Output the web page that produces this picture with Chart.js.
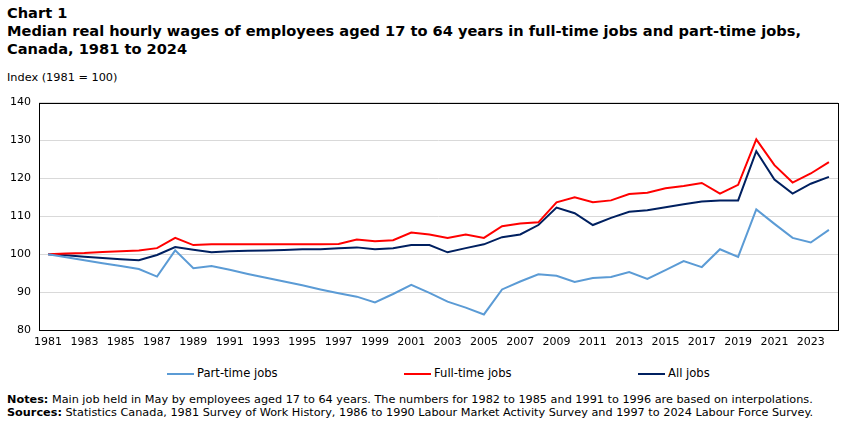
<!DOCTYPE html>
<html>
<head>
<meta charset="utf-8">
<script src="https://cdn.jsdelivr.net/npm/chart.js@4/dist/chart.umd.min.js"></script>
<style>
  body { margin: 0; background: #fff; font-family: Verdana, "DejaVu Sans", sans-serif; color: #000; }
  #wrap { position: relative; width: 851px; height: 426px; overflow: hidden; }
  #titulo { position: absolute; left: 7px; top: 4px; font-weight: bold; font-size: 14.6px; line-height: 18px; }
  #unidad { position: absolute; left: 7px; top: 71px; font-size: 11.3px; }
  #caja { position: absolute; left: 0; top: 88px; width: 851px; height: 268px; }
  #leyenda { position: absolute; left: 0; top: 366px; width: 851px; font-size: 11.6px; }
  .item { position: absolute; top: 0; white-space: nowrap; }
  .item span.linea { display: inline-block; width: 27px; height: 2px; vertical-align: middle; margin-right: 3px; }
  #notas { position: absolute; left: 7px; top: 393px; font-size: 11.25px; line-height: 13px; white-space: nowrap; }
</style>
</head>
<body>
<div id="wrap">
  <div id="titulo">Chart 1<br>Median real hourly wages of employees aged 17 to 64 years in full-time jobs and part-time jobs,<br>Canada, 1981 to 2024</div>
  <div id="unidad">Index (1981 = 100)</div>
  <div id="caja"><canvas id="grafico"></canvas></div>
  <div id="leyenda"></div>
  <div id="notas"><b>Notes:</b> Main job held in May by employees aged 17 to 64 years. The numbers for 1982 to 1985 and 1991 to 1996 are based on interpolations.<br><b>Sources:</b> Statistics Canada, 1981 Survey of Work History, 1986 to 1990 Labour Market Activity Survey and 1997 to 2024 Labour Force Survey.</div>
</div>
<script>
const anios = ['1981','1982','1983','1984','1985','1986','1987','1988','1989','1990',
  '1991','1992','1993','1994','1995','1996','1997','1998','1999','2000',
  '2001','2002','2003','2004','2005','2006','2007','2008','2009','2010',
  '2011','2012','2013','2014','2015','2016','2017','2018','2019','2020',
  '2021','2022','2023','2024'];

const tiempoParcial = [100.0, 99.2, 98.4, 97.6, 96.9, 96.1, 94.1, 101.0, 96.3, 96.9,
  95.9, 94.8, 93.8, 92.8, 91.8, 90.7, 89.7, 88.8, 87.3, 89.5,
  91.9, 89.8, 87.5, 85.9, 84.1, 90.7, 92.8, 94.7, 94.3, 92.7,
  93.7, 94.0, 95.3, 93.5, 95.8, 98.2, 96.6, 101.3, 99.3, 111.8,
  108.0, 104.3, 103.1, 106.4];

const tiempoCompleto = [100.0, 100.2, 100.3, 100.6, 100.8, 101.0, 101.6, 104.3, 102.4, 102.6,
  102.6, 102.6, 102.6, 102.6, 102.6, 102.6, 102.7, 103.9, 103.4, 103.7,
  105.7, 105.2, 104.3, 105.2, 104.3, 107.4, 108.1, 108.4, 113.7, 115.0,
  113.7, 114.2, 115.9, 116.2, 117.4, 118.0, 118.8, 116.0, 118.3, 130.3,
  123.5, 118.9, 121.3, 124.3];

const todos = [100.0, 99.7, 99.3, 99.0, 98.7, 98.4, 99.8, 101.9, 101.2, 100.5,
  100.8, 100.9, 101.0, 101.1, 101.3, 101.3, 101.6, 101.8, 101.3, 101.6,
  102.4, 102.4, 100.5, 101.6, 102.6, 104.5, 105.2, 107.7, 112.3, 110.8,
  107.7, 109.6, 111.2, 111.6, 112.4, 113.2, 113.9, 114.2, 114.2, 127.2,
  119.7, 116.0, 118.6, 120.4];

const nombres = ['Part-time jobs', 'Full-time jobs', 'All jobs'];
const colores = ['#5b9bd5', '#ff0000', '#002060'];
const yTicks = [80, 90, 100, 110, 120, 130, 140];

// marco negro alrededor del area del grafico
const marco = {
  id: 'marco',
  afterDraw(chart) {
    const a = chart.chartArea;
    const ctx = chart.ctx;
    ctx.save();
    ctx.strokeStyle = '#000';
    ctx.lineWidth = 1;
    ctx.strokeRect(Math.round(a.left) + 0.5, Math.round(a.top) + 0.5,
      Math.round(a.right - a.left), Math.round(a.bottom - a.top));
    ctx.restore();
  }
};

const series = [tiempoParcial, tiempoCompleto, todos];
const canva = document.getElementById('grafico');
const fuente = { family: 'Verdana, "DejaVu Sans", sans-serif', size: 11 };

const myChart = new Chart(canva, {
  type: 'line',
  data: {
    labels: anios,
    datasets: series.map((s, i) => ({
      label: nombres[i],
      data: s,
      borderColor: colores[i],
      backgroundColor: colores[i],
      borderWidth: 2,
      pointRadius: 0,
      tension: 0,
      fill: false
    }))
  },
  options: {
    responsive: true,
    maintainAspectRatio: false,
    animation: false,
    layout: { padding: { top: 12, right: 13, left: 0, bottom: 0 } },
    plugins: { legend: { display: false }, tooltip: { enabled: false } },
    scales: {
      x: {
        offset: true,
        grid: { display: false, drawTicks: false, offset: true },
        border: { display: false },
        ticks: {
          color: '#000', font: fuente, maxRotation: 0, autoSkip: false, padding: 6,
          callback: function (v, i) { return i % 2 === 0 ? anios[i] : ''; }
        },
        afterFit(s) { s.height = 26; }
      },
      y: {
        min: 80, max: 140,
        afterBuildTicks(s) { s.ticks = yTicks.map(v => ({ value: v })); },
        grid: { color: '#d9d9d9', drawTicks: false },
        border: { display: false },
        ticks: { color: '#000', font: fuente, padding: 8 },
        afterFit(s) { s.width = 39; }
      }
    }
  },
  plugins: [marco]
});

// leyenda en html a partir de los datasets
const leyenda = document.getElementById('leyenda');
const posiciones = [167, 404, 638];
myChart.data.datasets.forEach((d, i) => {
  const el = document.createElement('div');
  el.className = 'item';
  el.style.left = posiciones[i] + 'px';
  el.innerHTML = '<span class="linea" style="background:' + d.borderColor + '"></span>' + d.label;
  leyenda.appendChild(el);
});
</script>
</body>
</html>
